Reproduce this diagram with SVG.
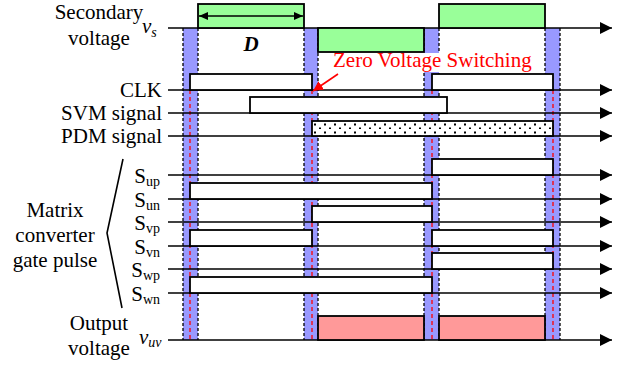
<svg xmlns="http://www.w3.org/2000/svg" width="628" height="369" viewBox="0 0 628 369" font-family="Liberation Serif, Times New Roman, serif" font-size="21">
<style>
svg{display:block}
.t{font-family:"Liberation Serif","Times New Roman",serif;font-size:21px}
.it{font-style:italic}
.ax{stroke:#000;stroke-width:1.6;fill:none}
.wf{stroke:#000;stroke-width:1.8;fill:#fff}
.band{fill:#9999ff;stroke:none}
.dk{stroke:#000;stroke-width:1.3;stroke-dasharray:3,2;fill:none}
.dr{stroke:#ff0000;stroke-width:1.3;stroke-dasharray:4,3;fill:none}
</style>
<defs>
<marker id="ah" markerUnits="userSpaceOnUse" markerWidth="12" markerHeight="12" refX="12" refY="6" orient="auto">
<path d="M0,0 L12,6 L0,12 z" fill="#000"/>
</marker>
<marker id="ahs" markerUnits="userSpaceOnUse" markerWidth="9" markerHeight="8" refX="9" refY="4" orient="auto-start-reverse">
<path d="M0,0 L9,4 L0,8 z" fill="#000"/>
</marker>
<marker id="ahr" markerUnits="userSpaceOnUse" markerWidth="10" markerHeight="10" refX="10" refY="5" orient="auto">
<path d="M0,0 L10,5 L0,10 z" fill="#ff0000"/>
</marker>
<pattern id="dots" patternUnits="userSpaceOnUse" x="312" y="121" width="10" height="8">
<rect width="10" height="8" fill="#fff"/>
<rect x="2" y="2.5" width="2" height="2" fill="#000"/>
<rect x="7" y="6.5" width="2" height="2" fill="#000"/>
</pattern>
</defs>
<rect width="628" height="369" fill="#fff"/>

<g id="bands">
<rect class="band" x="183" y="28" width="15" height="312"/>
<rect class="band" x="304" y="28" width="14" height="312"/>
<rect class="band" x="424" y="28" width="15" height="312"/>
<rect class="band" x="545" y="28" width="15" height="312"/>
<path class="dk" d="M183,28V340M198,28V340M304,28V340M318,28V340M424,28V340M439,28V340M545,28V340M560,28V340"/>
<path class="dr" d="M190,90V340M312,90V340M432,90V340M553,90V340"/>
</g>

<g id="zvs-label">
<rect x="328" y="53" width="212" height="19" fill="#fff"/>
<text class="t" x="333" y="67" fill="#ff0000">Zero Voltage Switching</text>
</g>

<g id="connectors">
<line class="ax" x1="168" y1="28" x2="612" y2="28" marker-end="url(#ah)"/>
<line class="ax" x1="168" y1="90" x2="612" y2="90" marker-end="url(#ah)"/>
<line class="ax" x1="168" y1="113" x2="612" y2="113" marker-end="url(#ah)"/>
<line class="ax" x1="168" y1="136" x2="612" y2="136" marker-end="url(#ah)"/>
<line class="ax" x1="168" y1="175" x2="612" y2="175" marker-end="url(#ah)"/>
<line class="ax" x1="168" y1="199" x2="612" y2="199" marker-end="url(#ah)"/>
<line class="ax" x1="168" y1="222" x2="612" y2="222" marker-end="url(#ah)"/>
<line class="ax" x1="168" y1="246" x2="612" y2="246" marker-end="url(#ah)"/>
<line class="ax" x1="168" y1="269" x2="612" y2="269" marker-end="url(#ah)"/>
<line class="ax" x1="168" y1="293" x2="612" y2="293" marker-end="url(#ah)"/>
<line class="ax" x1="168" y1="340" x2="612" y2="340" marker-end="url(#ah)"/>
<line x1="338" y1="74" x2="313" y2="91" stroke="#ff0000" stroke-width="1.6" marker-end="url(#ahr)"/>
<path d="M123,159 L107,233 L122,308" stroke="#000" stroke-width="1.6" fill="none"/>
</g>

<g id="vs">
<rect class="wf" x="198" y="4" width="106" height="24" style="fill:#99ff99"/>
<rect class="wf" x="318" y="28" width="106" height="24" style="fill:#99ff99"/>
<rect class="wf" x="439" y="4" width="106" height="24" style="fill:#99ff99"/>
<line x1="199" y1="16" x2="303" y2="16" stroke="#000" stroke-width="1.6" marker-start="url(#ahs)" marker-end="url(#ahs)"/>
<text class="t" x="99" y="19" text-anchor="middle">Secondary</text>
<text class="t" x="99" y="45" text-anchor="middle">voltage</text>
<text class="t it" x="142" y="33" font-style="italic">v<tspan font-size="14" dy="4">s</tspan></text>
<text class="t it" x="251" y="51" text-anchor="middle" font-weight="bold" font-style="italic">D</text>
</g>

<g id="clk">
<rect class="wf" x="190" y="74" width="122" height="16"/>
<rect class="wf" x="432" y="74" width="121" height="16"/>
<text class="t" x="162" y="97" text-anchor="end">CLK</text>
</g>

<g id="svm">
<rect class="wf" x="250" y="97" width="197" height="16"/>
<text class="t" x="162" y="120" text-anchor="end">SVM signal</text>
</g>

<g id="pdm">
<rect class="wf" x="312" y="121" width="241" height="15" style="fill:url(#dots)"/>
<text class="t" x="162" y="143" text-anchor="end">PDM signal</text>
</g>

<g id="sup">
<rect class="wf" x="432" y="159" width="121" height="16"/>
<text class="t" x="160" y="183" text-anchor="end">S<tspan font-size="14" dy="3">up</tspan></text>
</g>
<g id="sun">
<rect class="wf" x="190" y="183" width="242" height="16"/>
<text class="t" x="160" y="207" text-anchor="end">S<tspan font-size="14" dy="3">un</tspan></text>
</g>
<g id="svp">
<rect class="wf" x="312" y="206" width="120" height="16"/>
<text class="t" x="160" y="230" text-anchor="end">S<tspan font-size="14" dy="3">vp</tspan></text>
</g>
<g id="svn">
<rect class="wf" x="190" y="230" width="122" height="16"/>
<rect class="wf" x="432" y="230" width="121" height="16"/>
<text class="t" x="160" y="254" text-anchor="end">S<tspan font-size="14" dy="3">vn</tspan></text>
</g>
<g id="swp">
<rect class="wf" x="432" y="253" width="121" height="16"/>
<text class="t" x="160" y="277" text-anchor="end">S<tspan font-size="14" dy="3">wp</tspan></text>
</g>
<g id="swn">
<rect class="wf" x="190" y="277" width="242" height="16"/>
<text class="t" x="160" y="301" text-anchor="end">S<tspan font-size="14" dy="3">wn</tspan></text>
</g>

<g id="gate-label">
<text class="t" x="55" y="217" text-anchor="middle">Matrix</text>
<text class="t" x="55" y="242" text-anchor="middle">converter</text>
<text class="t" x="55" y="267" text-anchor="middle">gate pulse</text>
</g>

<g id="vuv">
<rect class="wf" x="318" y="316" width="106" height="24" style="fill:#ff9999"/>
<rect class="wf" x="439" y="316" width="106" height="24" style="fill:#ff9999"/>
<text class="t" x="99" y="330" text-anchor="middle">Output</text>
<text class="t" x="99" y="355" text-anchor="middle">voltage</text>
<text class="t it" x="139" y="344" font-style="italic">v<tspan font-size="14" dy="3">uv</tspan></text>
</g>
</svg>
